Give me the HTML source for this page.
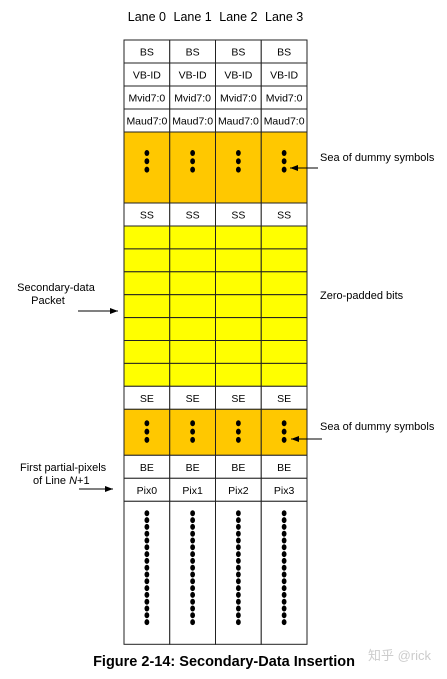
<!DOCTYPE html>
<html><head><meta charset="utf-8"><style>
body{margin:0;width:447px;height:674px;background:#fff;overflow:hidden}
svg text{font-family:"Liberation Sans",Arial,sans-serif;fill:#000}
</style></head><body>
<svg width="447" height="674" xmlns="http://www.w3.org/2000/svg">
<defs><marker id="ah" markerWidth="8" markerHeight="6" refX="8" refY="3" orient="auto"><path d="M0,0 L8,3 L0,6 z" fill="#000"/></marker></defs>
<g id="grid"></g>
<g font-size="11">
<text x="320" y="161">Sea of dummy symbols</text>
<line x1="318" y1="168" x2="290" y2="168" stroke="#000" stroke-width="1" marker-end="url(#ah)"/>
<text x="320" y="430">Sea of dummy symbols</text>
<line x1="322" y1="439" x2="291" y2="439" stroke="#000" stroke-width="1" marker-end="url(#ah)"/>
<text x="320" y="299">Zero-padded bits</text>
<text x="56" y="291" text-anchor="middle">Secondary-data</text>
<text x="48" y="304" text-anchor="middle">Packet</text>
<line x1="78" y1="311" x2="118" y2="311" stroke="#000" marker-end="url(#ah)"/>
<text x="20" y="471">First partial-pixels</text>
<text x="33" y="484">of Line <tspan font-style="italic">N</tspan>+1</text>
<line x1="79" y1="489" x2="113" y2="489" stroke="#000" marker-end="url(#ah)"/>
</g>
<text x="224" y="666" text-anchor="middle" font-size="14.5" font-weight="bold">Figure 2-14: Secondary-Data Insertion</text>
<text x="368" y="660" font-size="13" style="font-family:'Liberation Sans','Noto Sans CJK SC',sans-serif;fill:#ccc">知乎 @rick</text>
</svg>
<script>
const lanes=["Lane 0","Lane 1","Lane 2","Lane 3"];
const rows=[["BS",23,"#fff"],["VB-ID",23,"#fff"],["Mvid7:0",23,"#fff"],["Maud7:0",23,"#fff"],["dots3",71,"#ffc800"],["SS",23,"#fff"],["",22.9,"#ffff00"],["",22.9,"#ffff00"],["",22.9,"#ffff00"],["",22.9,"#ffff00"],["",22.9,"#ffff00"],["",22.9,"#ffff00"],["",22.9,"#ffff00"],["SE",23,"#fff"],["dots3",46,"#ffc800"],["BE",23,"#fff"],["Pix",23,"#fff"],["dots17",143,"#fff"]];
const NS="http://www.w3.org/2000/svg";
const g=document.getElementById('grid');
const x0=124,cw=45.75,y0=40;
function mk(t,a){const e=document.createElementNS(NS,t);for(const k in a)e.setAttribute(k,a[k]);g.appendChild(e);return e;}
lanes.forEach((l,i)=>{const t=mk('text',{x:x0+cw*i+cw/2,y:21,'text-anchor':'middle','font-size':'12.5'});t.textContent=l;

});
let y=y0;
rows.forEach(r=>{const [lab,h,c]=r;
for(let i=0;i<4;i++){const x=x0+cw*i;
const re=mk('rect',{x:x,y:y,width:cw,height:h,fill:c,stroke:'#222','stroke-width':1});


const cx=x+cw/2;
if(lab.startsWith('dots')){const n=lab=='dots3'?3:17;const sp=lab=='dots3'?8.3:6.8;const st=lab=='dots3'?(h>60?y+21:y+14):y+12;
for(let k=0;k<n;k++)mk('ellipse',{cx:cx,cy:st+k*sp,rx:2.4,ry:3,fill:'#000'});}
else if(lab){const t=mk('text',{x:cx,y:y+h/2+4,'text-anchor':'middle','font-size':'10.5'});t.textContent=lab=='Pix'?'Pix'+i:lab;

}}
y+=h;});
</script>
</body></html>
